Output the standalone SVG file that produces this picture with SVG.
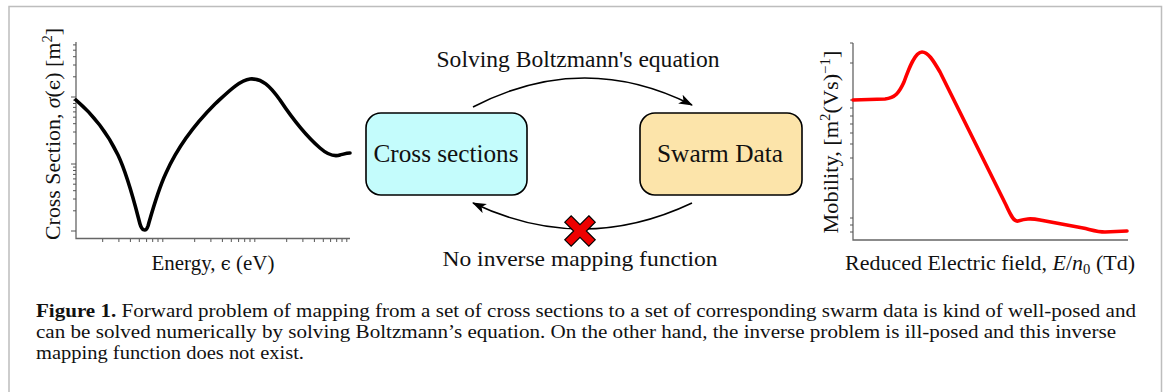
<svg xmlns="http://www.w3.org/2000/svg" width="1171" height="392" viewBox="0 0 1171 392">
<defs>
<style>
.serif{font-family:"Liberation Serif","DejaVu Serif","Times New Roman",serif;fill:#111}
.eps{font-family:"DejaVu Serif","Liberation Serif",serif}
.axis{stroke:#666;stroke-width:1.3;fill:none}
.tick{stroke:#555;stroke-width:1;fill:none}
.conn{stroke:#000;stroke-width:1.6;fill:none}
.box{stroke:#000;stroke-width:1.6}
.lbl{font-size:21px}
</style>
<marker id="ah" markerWidth="16" markerHeight="12" refX="13" refY="5" orient="auto" markerUnits="userSpaceOnUse">
<path d="M0,0 L14,5 L0,10 L3.5,5 z" fill="#000"/>
</marker>
</defs>
<rect width="1171" height="392" fill="#fff"/>
<path d="M9,393 V6.5 H1161.5 V393" fill="none" stroke="#bdbdbd" stroke-width="1.5"/>

<g id="plot-cross-section">
<path class="axis" d="M76,42 V238.5 H350"/>
<path class="tick" d="M73,44.9H76M73,50.2H76M73,56.7H76M73,65H76M73,76.8H76M71,97H76M73,100.1H76M73,103.5H76M73,107.4H76M73,111.9H76M73,117.2H76M73,123.7H76M73,132H76M73,143.8H76M71,164H76M73,167.1H76M73,170.5H76M73,174.4H76M73,178.9H76M73,184.2H76M73,190.7H76M73,199H76M73,210.8H76M71,231H76"/>
<path class="tick" d="M102.7,239V242M118.9,239V242M130.4,239V242M139.3,239V242M146.6,239V242M152.7,239V242M158,239V242M162.8,239V242M194.7,239V242M210.9,239V242M222.4,239V242M231.3,239V242M238.6,239V242M244.7,239V242M250,239V242M254.8,239V242M286.7,239V242M302.9,239V242M314.4,239V242M323.3,239V242M330.6,239V242M336.7,239V242M342,239V242M346.8,239V242"/>
<path d="M76,100 C90,112 105,128 118,155 C128,176 135,205 140,224 C142,231 146,232 148,226 C152,212 158,190 166,173 C178,146 195,124 215,104 C228,92 240,80 250,79 C262,78 270,86 280,100 C292,118 305,135 320,148 C328,155 334,157 340,155 C344,154 347,153 350,153" fill="none" stroke="#000" stroke-width="3.6" stroke-linecap="round" stroke-linejoin="round"/>
<text class="serif lbl" x="213" y="270" text-anchor="middle" textLength="123" lengthAdjust="spacingAndGlyphs">Energy, <tspan class="eps" font-size="18">ϵ</tspan> (eV)</text>
<text class="serif lbl" transform="translate(60,134) rotate(-90)" text-anchor="middle" textLength="212" lengthAdjust="spacingAndGlyphs">Cross Section, <tspan font-style="italic">σ</tspan>(<tspan class="eps" font-size="18">ϵ</tspan>) [m<tspan font-size="14" dy="-8">2</tspan><tspan dy="8">]</tspan></text>
</g>

<g id="plot-mobility">
<path class="axis" d="M853,43 V240 H1128"/>
<path class="tick" d="M850,43H853M850,63H853M850,100H853M850,108H853M850,116H853M850,124H853M850,133H853M850,144H853M850,158H853M850,179H853M850,218H853M850,225H853M850,232H853"/>
<path d="M853,100 L885,99 C895,98 899,93 904,82 C909,68 915,52 922,52 C928,52 933,60 940,72 L1006,205 C1011,216 1014,222 1018,221 C1025,219 1030,218 1040,220 L1083,228 C1092,230 1098,232 1105,232 L1127,231" fill="none" stroke="#ff0000" stroke-width="3.6" stroke-linecap="round" stroke-linejoin="round"/>
<text class="serif lbl" x="990" y="270" text-anchor="middle" textLength="290" lengthAdjust="spacingAndGlyphs">Reduced Electric field, <tspan font-style="italic">E</tspan>/<tspan font-style="italic">n</tspan><tspan font-size="14" dy="4">0</tspan><tspan dy="-4"> (Td)</tspan></text>
<text class="serif lbl" transform="translate(838,142) rotate(-90)" text-anchor="middle" textLength="183" lengthAdjust="spacingAndGlyphs">Mobility, [m<tspan font-size="14" dy="-8">2</tspan><tspan dy="8">(Vs)</tspan><tspan font-size="14" dy="-8">−1</tspan><tspan dy="8">]</tspan></text>
</g>

<g id="node-cross-sections">
<rect class="box" x="366" y="113" width="161" height="82" rx="15" fill="#c4fcfc"/>
<text class="serif" x="446" y="162" font-size="26" text-anchor="middle" textLength="145" lengthAdjust="spacingAndGlyphs">Cross sections</text>
</g>

<g id="node-swarm-data">
<rect class="box" x="640" y="113" width="162" height="82" rx="15" fill="#fce4aa"/>
<text class="serif" x="720" y="162" font-size="26" text-anchor="middle" textLength="126" lengthAdjust="spacingAndGlyphs">Swarm Data</text>
</g>

<g id="connectors">
<path class="conn" d="M473,107 Q583,50 692,105" marker-end="url(#ah)"/>
<text class="serif" x="578" y="67" font-size="23" text-anchor="middle" textLength="283" lengthAdjust="spacingAndGlyphs">Solving Boltzmann's equation</text>
<path class="conn" d="M692,203 Q582,255 473,203" marker-end="url(#ah)"/>
<g transform="translate(580,231) rotate(45)">
<polygon points="-4.5,-17 4.5,-17 4.5,-4.5 17,-4.5 17,4.5 4.5,4.5 4.5,17 -4.5,17 -4.5,4.5 -17,4.5 -17,-4.5 -4.5,-4.5" fill="#ee0000" stroke="#000" stroke-width="1.2" stroke-linejoin="miter"/>
</g>
<text class="serif" x="580" y="266" font-size="22" text-anchor="middle" textLength="275" lengthAdjust="spacingAndGlyphs">No inverse mapping function</text>
</g>

<g id="caption" class="serif" font-size="18.5" fill="#1a1a1a">
<text x="36" y="316.5" textLength="1100" lengthAdjust="spacingAndGlyphs"><tspan font-weight="bold">Figure 1.</tspan> Forward problem of mapping from a set of cross sections to a set of corresponding swarm data is kind of well-posed and</text>
<text x="36" y="337.5" textLength="1080" lengthAdjust="spacingAndGlyphs">can be solved numerically by solving Boltzmann’s equation. On the other hand, the inverse problem is ill-posed and this inverse</text>
<text x="36" y="358.5" textLength="268" lengthAdjust="spacingAndGlyphs">mapping function does not exist.</text>
</g>
</svg>
